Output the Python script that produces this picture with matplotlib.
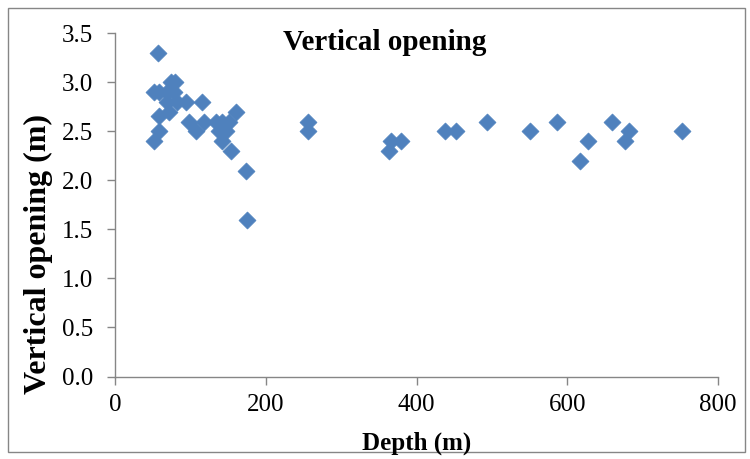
import matplotlib
matplotlib.use("Agg")
import matplotlib.pyplot as plt
from matplotlib.patches import Rectangle

depth = [57, 74, 80, 52, 58, 69, 78, 69, 82, 94, 115, 72, 58, 161, 98, 108, 118,
         134, 142, 151, 138, 147, 58, 52, 142, 154, 174, 175,
         256, 256, 364, 366, 380, 438, 453, 494, 551, 586, 617, 627, 660, 682, 676, 752]
opening = [3.3, 3.0, 3.0, 2.9, 2.9, 2.9, 2.9, 2.8, 2.8, 2.8, 2.8, 2.7, 2.66, 2.7, 2.6, 2.5, 2.6,
           2.6, 2.6, 2.6, 2.5, 2.5, 2.5, 2.4, 2.4, 2.3, 2.1, 1.6,
           2.6, 2.5, 2.3, 2.4, 2.4, 2.5, 2.5, 2.6, 2.5, 2.6, 2.2, 2.4, 2.6, 2.5, 2.4, 2.5]
x_ticks = [0, 200, 400, 600, 800]
y_ticks = [0.0, 0.5, 1.0, 1.5, 2.0, 2.5, 3.0, 3.5]

plt.rcParams['font.family'] = ['Liberation Serif', 'DejaVu Serif']

W, H = 750, 459
fig = plt.figure(figsize=(7.5, 4.59), dpi=100)
ax = fig.add_axes([115/W, 1-376.5/H, (718-115)/W, (376.5-33.3)/H])

ax.scatter(depth, opening, marker='D', s=75, color='#4F81BD', edgecolors='#4F81BD',
           linewidths=0.5, zorder=3, clip_on=False)

ax.set_xlim(0, 800)
ax.set_ylim(0, 3.5)
ax.set_xticks(x_ticks)
ax.set_yticks(y_ticks)
ax.set_yticklabels([f"{v:.1f}" for v in y_ticks])
for s in ['top', 'right']:
    ax.spines[s].set_visible(False)
for s in ['left', 'bottom']:
    ax.spines[s].set_color('#868686')
    ax.spines[s].set_linewidth(1.0)
ax.tick_params(axis='both', direction='out', length=5.5, width=1.0, color='#868686',
               labelsize=18)
ax.tick_params(axis='x', pad=7)
ax.tick_params(axis='y', pad=10)

fig.text(417/W, 1-443/H, 'Depth (m)', ha='center', va='center', fontsize=18, fontweight='bold')
fig.text(38/W, 1-254/H, 'Vertical opening (m)', ha='center', va='center', rotation=90,
         fontsize=23, fontweight='bold')
fig.text(385/W, 1-42/H, 'Vertical opening', ha='center', va='center',
         fontsize=21, fontweight='bold')

fig.patches.append(Rectangle((8/W, 1-452/H), (745-8)/W, (452-8)/H, transform=fig.transFigure,
                             fill=False, edgecolor='#868686', linewidth=1.0))

fig.savefig('out.png', dpi=100)
